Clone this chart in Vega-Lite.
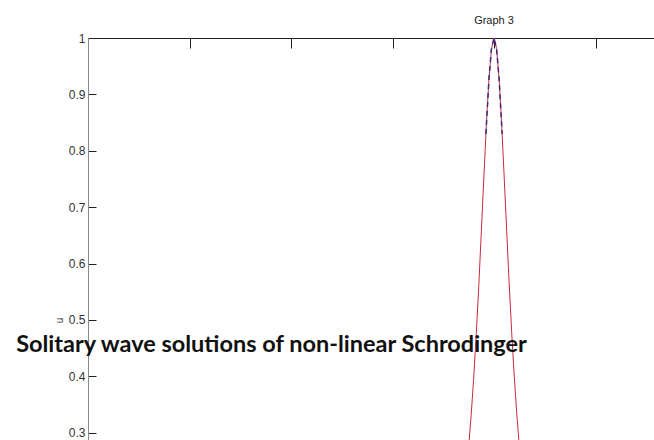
{
  "$schema": "https://vega.github.io/schema/vega-lite/v6.json",
  "autosize": "none",
  "padding": {"left": 88, "top": 38, "right": 0, "bottom": 0},
  "width": 566,
  "height": 402,
  "background": "white",
  "config": {"view": {"stroke": null}},
  "title": {
    "text": "Graph 3",
    "frame": "group",
    "anchor": "middle",
    "dx": 123,
    "offset": 6,
    "font": "Liberation Sans",
    "fontSize": 11,
    "fontWeight": "normal",
    "color": "#222"
  },
  "datasets": {
    "sol": [
      {"x": 3.6, "u": 0.086}, {"x": 3.65, "u": 0.127}, {"x": 3.7, "u": 0.1875},
      {"x": 3.75, "u": 0.275}, {"x": 3.775, "u": 0.3315}, {"x": 3.8, "u": 0.398},
      {"x": 3.825, "u": 0.475}, {"x": 3.85, "u": 0.5617}, {"x": 3.875, "u": 0.657},
      {"x": 3.9, "u": 0.7536}, {"x": 3.925, "u": 0.848}, {"x": 3.95, "u": 0.9275},
      {"x": 3.975, "u": 0.981}, {"x": 4.0, "u": 1.0}, {"x": 4.025, "u": 0.981},
      {"x": 4.05, "u": 0.9275}, {"x": 4.075, "u": 0.848}, {"x": 4.1, "u": 0.7536},
      {"x": 4.125, "u": 0.657}, {"x": 4.15, "u": 0.5617}, {"x": 4.175, "u": 0.475},
      {"x": 4.2, "u": 0.398}, {"x": 4.225, "u": 0.3315}, {"x": 4.25, "u": 0.275},
      {"x": 4.3, "u": 0.1875}, {"x": 4.35, "u": 0.127}, {"x": 4.4, "u": 0.086}
    ],
    "approx": [
      {"x": 3.92, "u": 0.83}, {"x": 3.95, "u": 0.9275}, {"x": 3.975, "u": 0.981},
      {"x": 4.0, "u": 1.0}, {"x": 4.025, "u": 0.981}, {"x": 4.05, "u": 0.9275},
      {"x": 4.08, "u": 0.83}
    ],
    "note": [
      {"x": 1.808, "u": 0.443, "label": "Solitary wave solutions of non-linear  Schrodinger"}
    ]
  },
  "layer": [
    {
      "data": {"name": "sol"},
      "mark": {"type": "line", "color": "#cc2a3c", "strokeWidth": 1, "clip": true},
      "encoding": {
        "x": {
          "field": "x", "type": "quantitative",
          "scale": {"domain": [0, 5.576], "nice": false, "zero": false},
          "axis": {
            "orient": "top", "values": [1, 2, 3, 4, 5], "labels": false, "title": null,
            "grid": false, "tickSize": -10, "tickColor": "#222", "domainColor": "#222",
            "tickWidth": 1, "domainWidth": 1
          }
        },
        "y": {
          "field": "u", "type": "quantitative",
          "scale": {"domain": [0.2872, 1], "nice": false, "zero": false},
          "axis": {
            "values": [0.3, 0.4, 0.5, 0.6, 0.7, 0.8, 0.9, 1],
            "format": ".1~f", "grid": false,
            "tickSize": -8, "labelPadding": 11, "tickColor": "#222", "domainColor": "#888",
            "labelFont": "Liberation Sans", "labelFontSize": 12, "labelColor": "#333",
            "title": "u", "titleFont": "Liberation Sans", "titleFontSize": 10,
            "titleFontWeight": "normal", "titleColor": "#333",
            "titleX": -29, "titleY": 282, "titleAngle": -90, "titleAlign": "center", "titleBaseline": "middle"
          }
        }
      }
    },
    {
      "data": {"name": "approx"},
      "mark": {"type": "line", "color": "#3a2a80", "strokeWidth": 1.5, "strokeDash": [5, 4], "clip": true},
      "encoding": {
        "x": {"field": "x", "type": "quantitative"},
        "y": {"field": "u", "type": "quantitative"}
      }
    },
    {
      "data": {"name": "note"},
      "mark": {
        "type": "text", "font": "Lato", "fontSize": 23.5, "fontWeight": "bold",
        "color": "#111", "align": "center", "baseline": "alphabetic"
      },
      "encoding": {
        "x": {"field": "x", "type": "quantitative"},
        "y": {"field": "u", "type": "quantitative"},
        "text": {"field": "label"}
      }
    }
  ]
}
